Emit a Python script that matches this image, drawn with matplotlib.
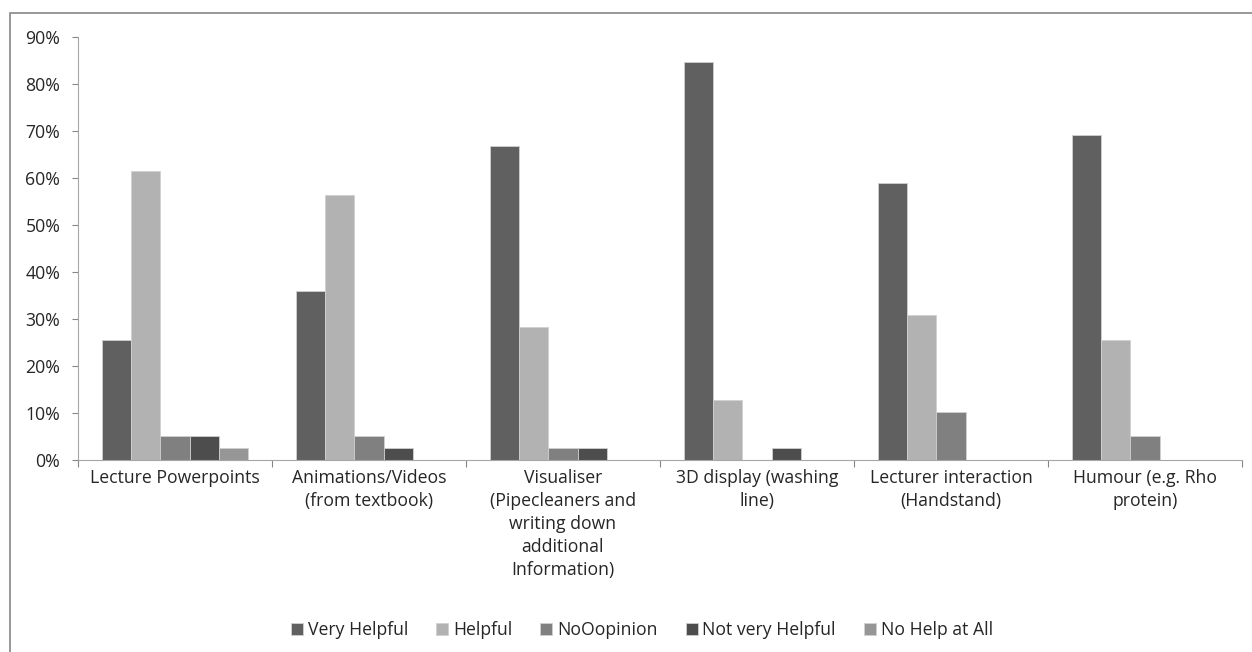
import matplotlib.pyplot as plt
import numpy as np
from matplotlib.patches import Rectangle
from matplotlib.ticker import PercentFormatter

plt.rcParams['font.family'] = ['Open Sans', 'DejaVu Sans']
plt.rcParams['text.color'] = '#262626'
plt.rcParams['xtick.color'] = '#262626'
plt.rcParams['ytick.color'] = '#262626'

# Survey responses (% of students)
categories = [
    'Lecture Powerpoints',
    'Animations/Videos\n(from textbook)',
    'Visualiser\n(Pipecleaners and\nwriting down\nadditional\nInformation)',
    '3D display (washing\nline)',
    'Lecturer interaction\n(Handstand)',
    'Humour (e.g. Rho\nprotein)',
]
series_names = ['Very Helpful', 'Helpful', 'NoOopinion', 'Not very Helpful', 'No Help at All']
very_helpful = [25.6, 35.9, 66.7, 84.6, 59.0, 69.2]
helpful = [61.5, 56.4, 28.2, 12.8, 30.8, 25.6]
no_opinion = [5.1, 5.1, 2.6, 0.0, 10.3, 5.1]
not_very_helpful = [5.1, 2.6, 2.6, 2.6, 0.0, 0.0]
no_help = [2.6, 0.0, 0.0, 0.0, 0.0, 0.0]

series = [very_helpful, helpful, no_opinion, not_very_helpful, no_help]
colors = ['#606060', '#b2b2b2', '#808080', '#4d4d4d', '#969696']

fs = 12.7

fig = plt.figure(figsize=(12.52, 6.52), dpi=100)
ax = fig.add_axes([0.0623, 0.2945, 0.9297, 0.6488])

x = np.arange(len(categories))
width = 1 / 6.6
for i, (vals, name, c) in enumerate(zip(series, series_names, colors)):
    ax.bar(x + (i - 2) * width, vals, width, color=c, label=name,
           edgecolor='#d0d0d0', linewidth=0.6)

ax.set_xlim(-0.5, len(categories) - 0.5)
ax.set_ylim(0, 90)
ax.set_yticks(np.arange(0, 91, 10))
ax.yaxis.set_major_formatter(PercentFormatter(decimals=0))

# category labels between boundary ticks
ax.set_xticks(np.arange(-0.5, len(categories), 1))
ax.set_xticklabels([])
ax.set_xticks(x, minor=True)
ax.set_xticklabels(categories, minor=True, fontsize=fs, linespacing=1.36, va='top')
ax.tick_params(axis='x', which='minor', length=0, pad=6.4)
ax.tick_params(axis='x', which='major', length=5, color='#868686', direction='out')
ax.tick_params(axis='y', length=4.3, color='#868686', labelsize=fs, pad=8.4)

for side in ['top', 'right']:
    ax.spines[side].set_visible(False)
for side in ['left', 'bottom']:
    ax.spines[side].set_color('#a6a6a6')

ax.legend(loc='center', bbox_to_anchor=(642 / 1252, 1 - 630 / 652),
          bbox_transform=fig.transFigure, ncol=5, frameon=False,
          fontsize=fs, handlelength=0.68, handleheight=0.68, columnspacing=1.6,
          handletextpad=0.26)

# outer chart border
fig.patches.append(Rectangle((10 / 1252, -0.1), 1.2, 1 - 13 / 652 + 0.1,
                             transform=fig.transFigure, fill=False,
                             edgecolor='#868686', linewidth=1.2))

fig.savefig('out.png', dpi=100)
